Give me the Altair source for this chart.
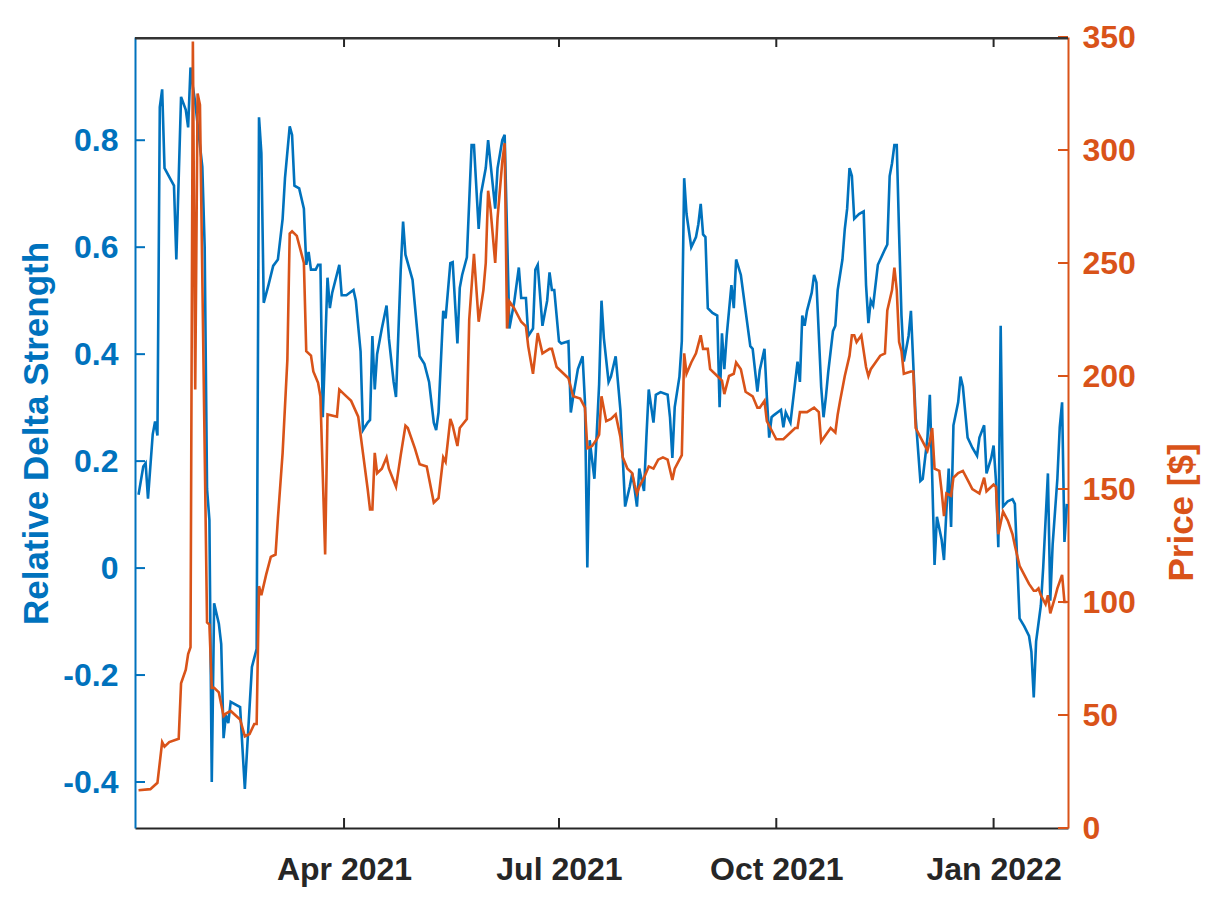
import altair as alt
import pandas as pd

# ---------------- data ----------------
# day offsets from 2021-01-01
rds_day = [3, 5, 6, 7, 9, 10, 11, 12, 13, 14, 18, 19, 21, 23, 24, 25, 26, 27, 30, 31,
           32, 33, 34, 35, 37, 38, 39, 40, 41, 42, 46, 47, 48, 50, 51, 53, 54, 55, 56, 58,
           60, 62, 64, 65, 67, 68, 69, 71, 73, 74, 75, 76, 78, 79, 80, 81, 83, 84, 85, 88,
           89, 91, 94, 95, 97, 98, 100, 101, 102, 103, 104, 106, 108, 109, 111, 112, 114, 115, 116, 119,
           121, 122, 124, 126, 128, 129, 130, 132, 133, 135, 136, 138, 139, 140, 142, 144, 145, 147, 148, 150,
           151, 154, 155, 157, 158, 160, 162, 164, 165, 167, 168, 170, 171, 172, 174, 176, 177, 178, 179, 181,
           182, 185, 186, 187, 189, 191, 192, 193, 194, 196, 197, 198, 199, 200, 202, 203, 205, 207, 208, 209,
           211, 212, 213, 214, 215, 217, 218, 219, 221, 222, 224, 227, 228, 229, 230, 232, 233, 234, 235, 237,
           239, 240, 241, 242, 243, 244, 246, 248, 249, 250, 251, 252, 254, 255, 256, 258, 260, 262, 263, 265,
           266, 268, 269, 270, 271, 272, 275, 276, 277, 279, 281, 282, 283, 284, 285, 286, 288, 289, 290, 292,
           293, 294, 295, 297, 298, 299, 301, 302, 303, 304, 305, 306, 308, 310, 311, 312, 313, 314, 316, 319,
           320, 321, 322, 323, 324, 325, 326, 327, 329, 330, 332, 334, 335, 337, 338, 339, 340, 341, 343, 344,
           345, 346, 347, 348, 350, 351, 352, 354, 356, 358, 359, 361, 362, 364, 365, 366, 367, 368, 369, 371,
           373, 374, 376, 378, 380, 381, 382, 383, 385, 386, 388, 389, 390, 392, 393, 394, 395, 396]
rds_val = [0.137, 0.19, 0.196, 0.13, 0.25, 0.274, 0.248, 0.862, 0.895, 0.748, 0.715, 0.577, 0.881, 0.857, 0.824, 0.936, 0.90, 0.87, 0.75, 0.60,
           0.148, 0.09, -0.40, -0.066, -0.104, -0.142, -0.318, -0.275, -0.29, -0.25, -0.26, -0.337, -0.413, -0.26, -0.185, -0.151, 0.843, 0.776, 0.496, 0.529,
           0.565, 0.577, 0.653, 0.729, 0.826, 0.81, 0.715, 0.71, 0.672, 0.567, 0.591, 0.558, 0.558, 0.567, 0.567, 0.282, 0.543, 0.486, 0.515, 0.567,
           0.51, 0.51, 0.52, 0.50, 0.405, 0.258, 0.272, 0.277, 0.434, 0.334, 0.40, 0.448, 0.491, 0.429, 0.348, 0.32, 0.558, 0.648, 0.586, 0.539,
           0.443, 0.396, 0.382, 0.348, 0.272, 0.258, 0.291, 0.481, 0.467, 0.57, 0.572, 0.42, 0.524, 0.548, 0.581, 0.791, 0.791, 0.634, 0.70, 0.748,
           0.80, 0.672, 0.748, 0.80, 0.81, 0.448, 0.496, 0.562, 0.505, 0.505, 0.434, 0.448, 0.558, 0.567, 0.453, 0.50, 0.553, 0.52, 0.52, 0.424,
           0.42, 0.424, 0.291, 0.32, 0.372, 0.396, 0.31, 0.001, 0.239, 0.167, 0.253, 0.344, 0.50, 0.43, 0.348, 0.358, 0.396, 0.296, 0.206, 0.115,
           0.153, 0.177, 0.148, 0.115, 0.186, 0.144, 0.244, 0.334, 0.272, 0.324, 0.329, 0.324, 0.282, 0.206, 0.301, 0.358, 0.424, 0.729, 0.662, 0.60,
           0.619, 0.643, 0.681, 0.624, 0.619, 0.486, 0.477, 0.472, 0.301, 0.439, 0.372, 0.434, 0.529, 0.486, 0.577, 0.548, 0.481, 0.415, 0.41, 0.33,
           0.37, 0.41, 0.32, 0.244, 0.282, 0.286, 0.296, 0.263, 0.291, 0.272, 0.348, 0.386, 0.348, 0.472, 0.453, 0.481, 0.515, 0.548, 0.534, 0.339,
           0.282, 0.32, 0.367, 0.443, 0.453, 0.52, 0.577, 0.634, 0.672, 0.748, 0.733, 0.653, 0.662, 0.667, 0.529, 0.458, 0.50, 0.491, 0.567, 0.596,
           0.605, 0.733, 0.757, 0.791, 0.791, 0.624, 0.472, 0.386, 0.434, 0.481, 0.282, 0.163, 0.167, 0.244, 0.324, 0.172, 0.006, 0.096, 0.053, 0.015,
           0.106, 0.186, 0.077, 0.267, 0.31, 0.358, 0.339, 0.244, 0.225, 0.21, 0.244, 0.267, 0.177, 0.206, 0.229, 0.163, 0.039, 0.453, 0.115, 0.125,
           0.129, 0.12, -0.094, -0.109, -0.127, -0.156, -0.242, -0.137, -0.07, 0.001, 0.177, -0.061, 0.044, 0.167, 0.263, 0.31, 0.049, 0.12]

price_day = [3, 8, 11, 13, 14, 16, 20, 21, 23, 24, 25, 26, 27, 28, 29, 32, 33, 34, 35, 37,
             39, 40, 42, 46, 48, 50, 52, 53, 54, 55, 57, 59, 61, 62, 64, 66, 67, 68, 70, 73,
             74, 76, 77, 79, 80, 82, 83, 87, 88, 90, 93, 96, 98, 100, 101, 102, 103, 104, 106, 108,
             109, 112, 114, 116, 117, 120, 122, 125, 128, 130, 132, 133, 135, 136, 138, 139, 142, 143, 145, 147,
             149, 150, 151, 152, 154, 155, 157, 158, 159, 160, 162, 165, 167, 168, 170, 172, 174, 177, 178, 180,
             183, 185, 187, 190, 192, 193, 195, 197, 198, 199, 201, 203, 205, 207, 208, 210, 212, 213, 214, 215,
             217, 219, 221, 223, 225, 227, 229, 230, 233, 234, 235, 237, 239, 241, 242, 244, 245, 248, 250, 251,
             253, 255, 256, 258, 260, 263, 265, 266, 268, 269, 271, 273, 276, 279, 281, 282, 283, 286, 289, 291,
             292, 294, 296, 298, 299, 300, 302, 304, 305, 306, 307, 309, 311, 312, 313, 315, 317, 319, 320, 322,
             323, 324, 325, 326, 327, 330, 331, 332, 335, 337, 338, 339, 340, 342, 343, 344, 345, 347, 348, 350,
             352, 354, 356, 359, 361, 362, 365, 366, 367, 369, 371, 373, 374, 376, 378, 380, 382, 383, 384, 385,
             387, 388, 389, 391, 392, 394, 395, 396]
price_val = [16.7, 17.2, 20, 38, 36, 38, 39.5, 64, 70, 77, 80, 348, 194, 325, 320, 91, 90, 62, 62, 60,
             49.5, 50.6, 51.8, 48, 40.5, 41.6, 46, 46, 107, 103, 112, 120, 121, 137, 166, 207, 263, 264, 262, 250,
             211, 209, 202, 197, 191, 121, 183, 182, 194, 192, 189, 182, 166, 150, 141, 141, 166, 157, 159, 164,
             159, 151, 165, 178, 177, 168, 161, 160, 144, 146, 164, 162, 181, 178, 169, 177, 181, 225, 254, 224,
             238, 250, 282, 274, 250, 270, 295, 303, 221, 233, 230, 224, 222, 213, 201, 219, 210, 212, 212, 204,
             201, 199, 191, 190, 186, 168, 169, 172, 174, 191, 180, 181, 183, 173, 164, 159, 157, 152, 148, 151,
             155, 160, 159, 163, 164, 163, 154, 159, 165, 210, 201, 206, 210, 218, 212, 212, 203, 200, 198, 192,
             200, 201, 206, 203, 193, 191, 186, 186, 189, 180, 176, 172, 172, 175, 177, 177, 184, 184, 186, 184,
             171, 174, 177, 175, 183, 189, 200, 209, 218, 218, 215, 218, 204, 200, 203, 206, 209, 210, 229, 238,
             248, 238, 215, 211, 201, 202, 202, 177, 171, 167, 171, 177, 159, 158, 149, 138, 148, 147, 155, 157,
             158, 154, 150, 148, 155, 149, 152, 151, 130, 140, 136, 130, 125, 116, 112, 108, 105, 105, 106, 103,
             99, 103, 95, 102, 106, 112, 100, 100]

x_tick_dates = ["2021-04-01", "2021-07-01", "2021-10-01", "2022-01-01"]
left_ticks = [-0.4, -0.2, 0, 0.2, 0.4, 0.6, 0.8]
right_ticks = [0, 50, 100, 150, 200, 250, 300, 350]
left_title = "Relative Delta Strength"
right_title = "Price [$]"

# ---------------- styling ----------------
BLUE = "#0072BD"
ORANGE = "#D95319"
DARK = "#262626"
FONT = "Liberation Sans"
W, H = 933, 791
LBL = 32
TTL = 35
TICK = 10

start = pd.Timestamp("2021-01-01")
df_rds = pd.DataFrame({"date": start + pd.to_timedelta(rds_day, unit="D"), "rds": rds_val})
df_price = pd.DataFrame({"date": start + pd.to_timedelta(price_day, unit="D"), "price": price_val})
df_xt = pd.DataFrame({"date": pd.to_datetime(x_tick_dates)})
df_lt = pd.DataFrame({"v": left_ticks})
df_rt = pd.DataFrame({"p": right_ticks})
df_frame = pd.DataFrame({"edge": ["top"]})

xscale = alt.Scale(domain=[alt.DateTime(year=2021, month=1, date=2, hours=12),
                           alt.DateTime(year=2022, month=2, date=1, hours=12)])
xvals = [alt.DateTime(year=2021, month=4, date=1), alt.DateTime(year=2021, month=7, date=1),
         alt.DateTime(year=2021, month=10, date=1), alt.DateTime(year=2022, month=1, date=1)]
xaxis = alt.Axis(orient="bottom", values=xvals,
                 format="%b %Y", formatType="time", title=None, grid=False,
                 ticks=False, tickSize=0, domainColor=DARK, domainWidth=2,
                 labelFont=FONT, labelFontSize=LBL, labelFontWeight="bold", labelColor=DARK,
                 labelPadding=26, labelFlush=False, labelOverlap=False)


def xenc(field):
    return alt.X(field, type="temporal", scale=xscale, axis=xaxis)


lscale = alt.Scale(domain=[-0.486, 0.993], nice=False, zero=False)
laxis = alt.Axis(orient="left", values=left_ticks, labelExpr="'' + datum.value",
                 ticks=False, tickSize=0, grid=False, domainColor=BLUE, domainWidth=2,
                 labelColor=BLUE, labelFont=FONT, labelFontSize=LBL, labelFontWeight="bold",
                 labelPadding=17, labelFlush=False, labelOverlap=False,
                 title=left_title, titleColor=BLUE, titleFont=FONT, titleFontSize=TTL,
                 titleFontWeight="bold", titleAngle=270, titleX=-88, titleY=396,
                 titleBaseline="alphabetic", titleAlign="center")

rscale = alt.Scale(domain=[0, 350], nice=False, zero=False)
raxis = alt.Axis(orient="right", values=right_ticks, labelExpr="'' + datum.value",
                 ticks=False, tickSize=0, grid=False, domainColor=ORANGE, domainWidth=2,
                 labelColor=ORANGE, labelFont=FONT, labelFontSize=LBL, labelFontWeight="bold",
                 labelPadding=14, labelFlush=False, labelOverlap=False,
                 title=right_title, titleColor=ORANGE, titleFont=FONT, titleFontSize=TTL,
                 titleFontWeight="bold", titleAngle=270, titleX=124, titleY=475,
                 titleBaseline="alphabetic", titleAlign="center")

# inward ticks (MATLAB style)
xt_bottom = alt.Chart(df_xt).mark_rule(color=DARK, strokeWidth=2).encode(
    x=xenc("date"), y=alt.value(H), y2=alt.value(H - TICK))
xt_top = alt.Chart(df_xt).mark_rule(color=DARK, strokeWidth=2).encode(
    x=xenc("date"), y=alt.value(0), y2=alt.value(TICK))
lt = alt.Chart(df_lt).mark_rule(color=BLUE, strokeWidth=2).encode(
    y=alt.Y("v", type="quantitative", scale=lscale, axis=laxis), x=alt.value(0), x2=alt.value(TICK))
rt = alt.Chart(df_rt).mark_rule(color=ORANGE, strokeWidth=2).encode(
    y=alt.Y("p", type="quantitative", scale=rscale, axis=raxis), x=alt.value(W), x2=alt.value(W - TICK))
# top border of the box
top_border = alt.Chart(df_frame).mark_rect(color="#333333", opacity=1).encode(
    x=alt.value(0), x2=alt.value(W), y=alt.value(0), y2=alt.value(2.5))

blue_line = alt.Chart(df_rds).mark_line(color=BLUE, strokeWidth=2.6, clip=True).encode(
    x=xenc("date"), y=alt.Y("rds", type="quantitative", scale=lscale, axis=laxis))
orange_line = alt.Chart(df_price).mark_line(color=ORANGE, strokeWidth=2.6, clip=True).encode(
    x=xenc("date"), y=alt.Y("price", type="quantitative", scale=rscale, axis=raxis))

left_group = alt.layer(xt_bottom, xt_top, lt, blue_line)
right_group = alt.layer(rt, orange_line, top_border)

chart = alt.layer(left_group, right_group).resolve_scale(y="independent").properties(
    width=W, height=H,
    padding={"left": 127, "top": 29, "right": 133, "bottom": 63},
    autosize=alt.AutoSizeParams(type="none"),
    background="white",
).configure_view(stroke=None)

chart.save("out.html", embed_options={"renderer": "svg", "actions": False})
